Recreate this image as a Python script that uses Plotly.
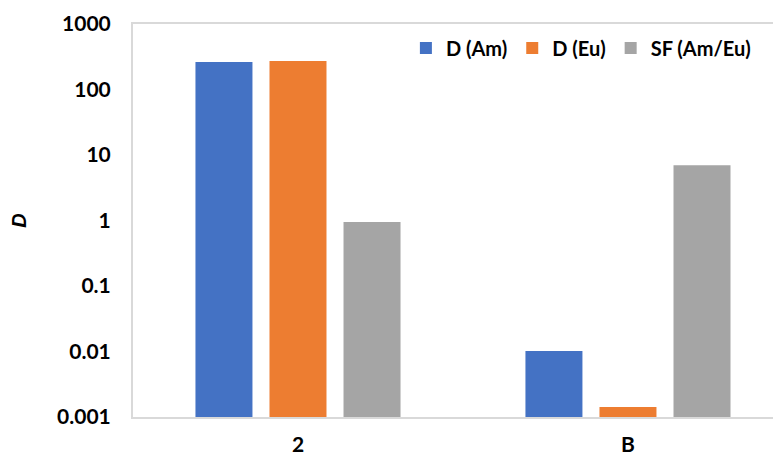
import plotly.graph_objects as go

categories = ["2", "B"]
d_am = [263, 0.0102]
d_eu = [272, 0.00142]
sf_am_eu = [0.95, 7.0]
series_names = ["D (Am)", "D (Eu)", "SF (Am/Eu)"]
colors = ["#4472C4", "#ED7D31", "#A5A5A5"]
y_tick_vals = [0.001, 0.01, 0.1, 1, 10, 100, 1000]
y_tick_text = ["0.001", "0.01", "0.1", "1", "10", "100", "1000"]

FONT = "Lato"

fig = go.Figure()
for name, vals, col in zip(series_names, [d_am, d_eu, sf_am_eu], colors):
    fig.add_trace(go.Bar(x=categories, y=vals, name=name, marker_color=col,
                         marker_line_width=0))

fig.update_layout(
    width=781, height=456,
    margin=dict(l=125, r=0, t=16, b=47),
    paper_bgcolor="white", plot_bgcolor="white",
    barmode="group", bargap=0.327, bargroupgap=0.23,
    font=dict(family=FONT, size=21, color="black", weight="bold"),
    showlegend=True,
    legend=dict(orientation="h", x=0.416, xanchor="left", y=0.939, yanchor="middle",
                font=dict(family=FONT, size=20, weight="bold"),
                bgcolor="rgba(0,0,0,0)", traceorder="normal", itemwidth=30),
)
fig.update_xaxes(
    type="category", range=[-0.5, 1.488],
    showline=True, linecolor="#D9D9D9", linewidth=2, mirror=True,
    showgrid=False, ticks="", ticklabelstandoff=8,
    tickfont=dict(family=FONT, size=21, weight="bold"),
)
fig.update_yaxes(
    type="log", range=[-3, 3],
    tickvals=y_tick_vals, ticktext=y_tick_text,
    showline=True, linecolor="#D9D9D9", linewidth=2,
    showgrid=False, zeroline=False, ticks="", ticklabelstandoff=16,
    tickfont=dict(family=FONT, size=21, weight="bold"),
    title=dict(text="<i>D</i>", standoff=28,
               font=dict(family="Liberation Sans", size=20, weight="bold")),
)

fig.write_html("out.html")
